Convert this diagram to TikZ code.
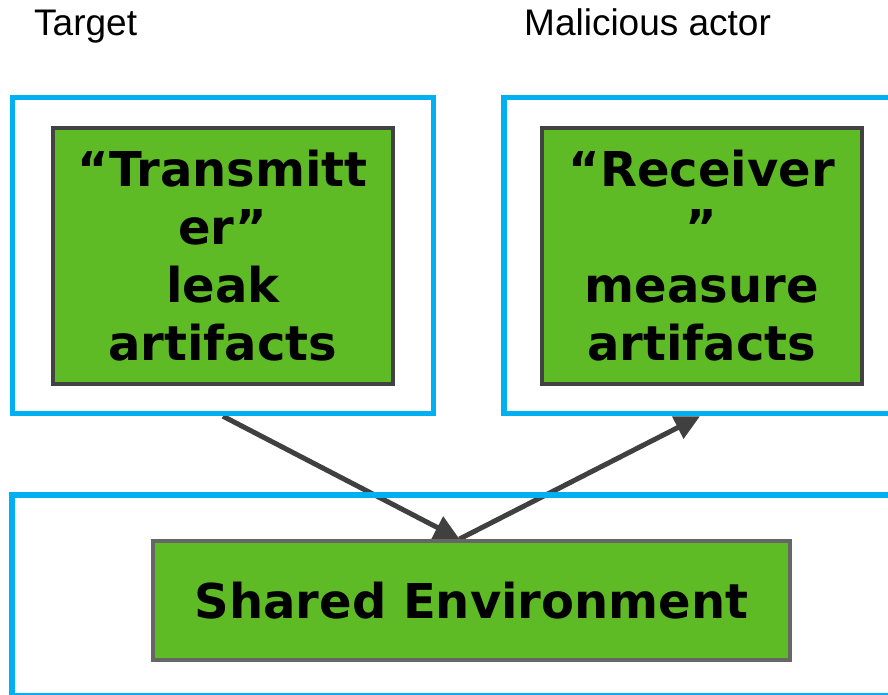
\documentclass[tikz,border=0pt]{standalone}
\usepackage{fontspec}
\newfontfamily\boxfont{DejaVu Sans}
\newfontfamily\labelfont{Liberation Sans}
\usetikzlibrary{arrows.meta,backgrounds}
\definecolor{cyanline}{HTML}{00B0F0}
\definecolor{greenfill}{HTML}{5FBB25}
\definecolor{darkborder}{HTML}{424242}
\definecolor{grayborder}{HTML}{666666}
\definecolor{arrowgray}{HTML}{404040}
\begin{document}
\begin{tikzpicture}[x=1pt,y=-1pt,
  zone/.style={draw=cyanline, line width=5.5pt, rectangle, inner sep=0pt},
  greenbox/.style={draw=darkborder, fill=greenfill, line width=4pt, rectangle, inner sep=0pt, align=center, font={\boxfont\bfseries\fontsize{48}{58}\selectfont}},
  lbl/.style={anchor=base west, inner sep=0pt, font={\labelfont\fontsize{37}{42}\selectfont}},
  flow/.style={draw=arrowgray, line width=5pt, -{Triangle[length=25pt,width=24pt]}}]
\useasboundingbox (0,0) rectangle (888,695);
\begin{scope}
\clip (0,0) rectangle (888,695);
\node[lbl] (tlabel) at (34,36) {Target};
\node[lbl] (mlabel) at (524,36) {Malicious actor};
\node[zone, minimum width=421pt, minimum height=316pt] (tz) at (223,255.5) {};
\node[zone, minimum width=392pt, minimum height=316pt] (az) at (700,255.5) {};
\node[zone, minimum width=892pt, minimum height=201pt] (ez) at (458,595.5) {};
\node[greenbox, minimum width=339.5pt, minimum height=256pt] (tx) at (222.75,256) {“Transmitt\\er”\\leak\\artifacts};
\node[greenbox, minimum width=319.5pt, minimum height=256pt] (rx) at (701.75,256) {“Receiver\\”\\measure\\artifacts};
\node[greenbox, draw=grayborder, minimum width=637pt, minimum height=119pt] (env) at (471.5,600.5) {Shared Environment};
\end{scope}
\begin{pgfonlayer}{background}
\coordinate (m) at ([xshift=-12pt]env.north);
\draw[flow] (tz.south) -- (m);
\draw[flow] (m) -- (az.south);
\end{pgfonlayer}
\end{tikzpicture}
\end{document}
